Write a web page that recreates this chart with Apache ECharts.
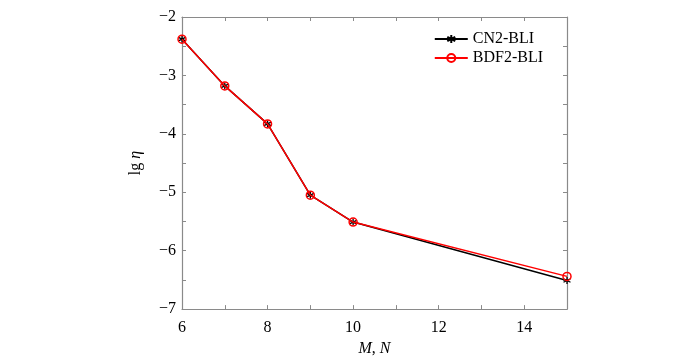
<!DOCTYPE html>
<html><head><meta charset="utf-8">
<script src="https://cdn.jsdelivr.net/npm/echarts@6/dist/echarts.min.js"></script>
<style>html,body{margin:0;padding:0;background:#fff}#c{width:700px;height:362px}</style>
</head><body><div id="c"></div>
<script>
const xValues = [6, 7, 8, 9, 10, 15];
const cn2 = [-2.38, -3.18, -3.83, -5.05, -5.51, -6.51];
const bdf2 = [-2.38, -3.18, -3.83, -5.05, -5.51, -6.44];
const seriesNames = ['CN2-BLI', 'BDF2-BLI'];
const xTickLabels = {6:'6', 8:'8', 10:'10', 12:'12', 14:'14'};
const yTickLabels = {'-2':'\u22122','-3':'\u22123','-4':'\u22124','-5':'\u22125','-6':'\u22126','-7':'\u22127'};

const font = 'Liberation Serif, Times New Roman, serif';
const axisCol = '#8a8a8a';
const chart = echarts.init(document.getElementById('c'));
const baseX = {
  type: 'value', min: 6, max: 15, interval: 1,
  axisLine: {show: true, onZero: false, lineStyle: {color: axisCol, width: 1.2}},
  axisTick: {show: true, inside: true, length: 4, lineStyle: {color: axisCol}},
  splitLine: {show: false}
};
const baseY = {
  type: 'value', min: -7, max: -2, interval: 0.5,
  axisLine: {show: true, onZero: false, lineStyle: {color: axisCol, width: 1.2}},
  axisTick: {show: true, inside: true, length: 4, lineStyle: {color: axisCol}},
  splitLine: {show: false}
};
const star = 'path://M0,-10L0,10M-8.66,-5L8.66,5M-8.66,5L8.66,-5';
chart.setOption({
  animation: false,
  grid: {left: 182, right: 133, top: 17, bottom: 41},
  legend: {
    right: 152, top: 26, orient: 'vertical', itemWidth: 33, itemHeight: 10, itemGap: 3,
    textStyle: {fontFamily: font, fontSize: 16, color: '#000'},
    data: seriesNames
  },
  xAxis: [
    Object.assign({}, baseX, {
      position: 'bottom',
      axisLabel: {show: true, margin: 11, fontFamily: font, fontSize: 16, color: '#000',
        formatter: v => xTickLabels[v] || ''},
      name: '{i|M}, {i|N}', nameLocation: 'middle', nameGap: 26,
      nameTextStyle: {fontFamily: font, fontSize: 16, color: '#000',
        rich: {i: {fontFamily: font, fontSize: 16, fontStyle: 'italic', color: '#000'}}}
    }),
    Object.assign({}, baseX, {position: 'top', axisLabel: {show: false}})
  ],
  yAxis: [
    Object.assign({}, baseY, {
      position: 'left',
      axisLabel: {show: true, margin: 6, fontFamily: font, fontSize: 16, color: '#000',
        formatter: v => yTickLabels[String(v)] || ''},
      name: 'lg {i|η}', nameLocation: 'middle', nameGap: 38, nameRotate: 90,
      nameTextStyle: {fontFamily: font, fontSize: 16, color: '#000',
        rich: {i: {fontFamily: font, fontSize: 16, fontStyle: 'italic', color: '#000'}}}
    }),
    Object.assign({}, baseY, {position: 'right', axisLabel: {show: false}})
  ],
  series: [
    {
      name: seriesNames[0], type: 'line', xAxisIndex: 0, yAxisIndex: 0,
      data: xValues.map((x, i) => [x, cn2[i]]),
      symbol: star, symbolSize: 7, showAllSymbol: true,
      lineStyle: {color: '#000', width: 1.5},
      itemStyle: {color: '#000', borderColor: '#000', borderWidth: 1.3},
      z: 2
    },
    {
      name: seriesNames[1], type: 'line', xAxisIndex: 0, yAxisIndex: 0,
      data: xValues.map((x, i) => [x, bdf2[i]]),
      symbol: 'circle', symbolSize: 8, showAllSymbol: true,
      lineStyle: {color: '#ff0000', width: 1.5},
      itemStyle: {color: 'rgba(255,255,255,0)', borderColor: '#ff0000', borderWidth: 1.5},
      z: 3
    }
  ]
});
</script></body></html>
